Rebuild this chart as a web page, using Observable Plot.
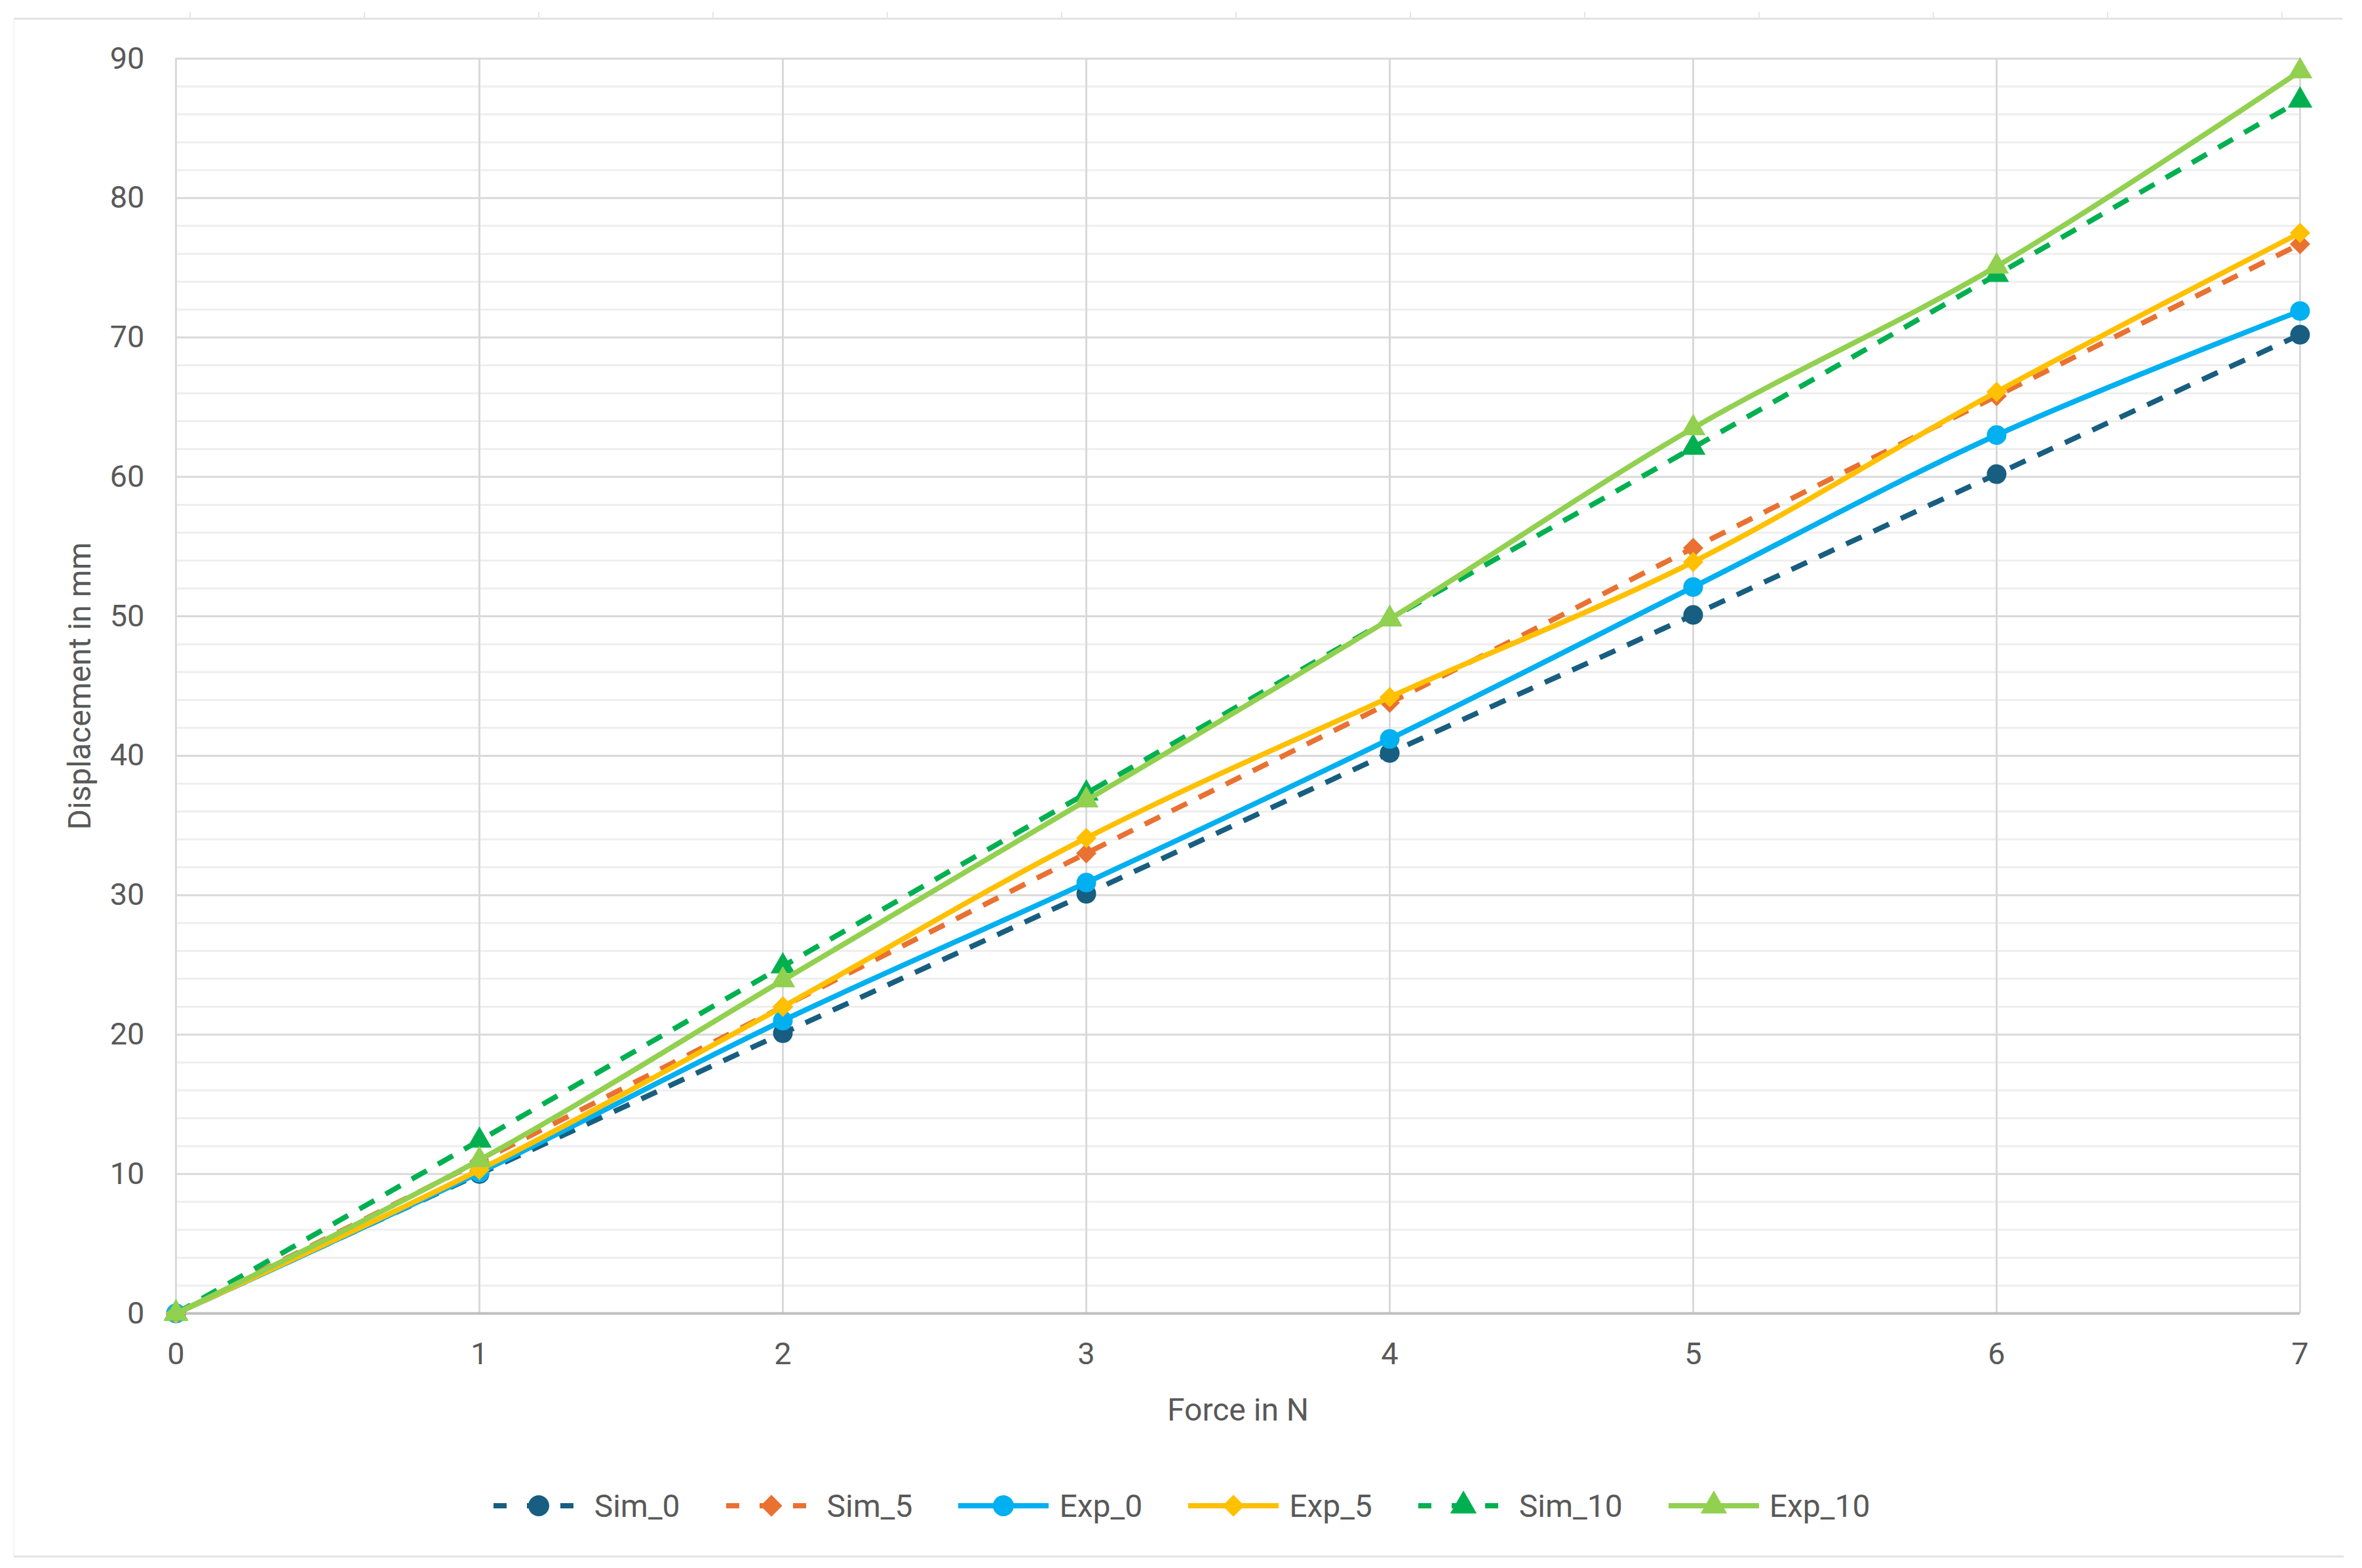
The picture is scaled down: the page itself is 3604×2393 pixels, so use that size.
<!DOCTYPE html>
<html>
<head>
<meta charset="utf-8">
<script src="https://cdn.jsdelivr.net/npm/d3@7"></script>
<script src="https://cdn.jsdelivr.net/npm/@observablehq/plot@0.6"></script>
<style>
  html, body { margin: 0; padding: 0; background: #fff; }
  body { width: 3604px; height: 2393px; position: relative; overflow: hidden; font-family: Roboto, "Noto Sans", sans-serif; }
  #chart { position: absolute; left: 0; top: 0; }
  #legend { position: absolute; left: 0; top: 2258px; width: 3604px; height: 80px; display: flex; justify-content: center; align-items: center; gap: 68px; }
  .item { display: flex; align-items: center; gap: 14px; font-size: 48px; color: #595959; }
  .frameTop { position: absolute; left: 21px; top: 27px; width: 3553px; border-top: 3px solid #e3e3e3; }
  .frameBottom { position: absolute; left: 21px; top: 2374px; width: 3555px; border-top: 3px solid #e3e3e3; }
  .frameLeft { position: absolute; left: 20px; top: 30px; height: 2344px; border-left: 2px solid #f4f4f4; }
  .colTick { position: absolute; top: 18px; height: 10px; border-left: 2px solid #e6e6e6; }
</style>
</head>
<body>
<div class="frameTop"></div>
<div class="frameLeft"></div>
<div id="chart"></div>
<div id="legend"></div>
<div class="frameBottom"></div>
<script>
// ---- data ----
const force = [0, 1, 2, 3, 4, 5, 6, 7];
const sim0  = [0, 10.0, 20.1, 30.1, 40.2, 50.1, 60.2, 70.2];
const sim5  = [0, 10.9, 22.0, 33.0, 43.8, 54.9, 65.8, 76.7];
const exp0  = [0, 10.1, 21.0, 30.9, 41.2, 52.1, 63.0, 71.9];
const exp5  = [0, 10.3, 22.0, 34.1, 44.2, 53.9, 66.1, 77.5];
const sim10 = [0, 12.4, 24.9, 37.3, 49.8, 62.1, 74.5, 87.0];
const exp10 = [0, 11.0, 23.9, 36.8, 49.8, 63.5, 75.1, 89.1];
const seriesNames = ["Sim_0", "Sim_5", "Exp_0", "Exp_5", "Sim_10", "Exp_10"];
const yTicks = [0, 10, 20, 30, 40, 50, 60, 70, 80, 90];
const yMinor = d3.range(0, 91, 2).filter(v => v % 10 !== 0);

// decorative spreadsheet column ticks on the top frame line
for (let k = 0; k < 14; k++) {
  const t = document.createElement("div");
  t.className = "colTick";
  t.style.left = (289 + k * 266) + "px";
  document.body.appendChild(t);
}

// ---- styles ----
const styles = {
  "Sim_0":  {color: "#185e80", dash: "26,20", symbol: "circle",   r: 15},
  "Sim_5":  {color: "#e97132", dash: "26,20", symbol: "diamond2", r: 14},
  "Exp_0":  {color: "#00b0f0", dash: null,    symbol: "circle",   r: 15},
  "Exp_5":  {color: "#ffc000", dash: null,    symbol: "diamond2", r: 14},
  "Sim_10": {color: "#00b050", dash: "26,20", symbol: "triangle", r: 14},
  "Exp_10": {color: "#92d050", dash: null,    symbol: "triangle", r: 14}
};
const values = {"Sim_0": sim0, "Sim_5": sim5, "Exp_0": exp0, "Exp_5": exp5, "Sim_10": sim10, "Exp_10": exp10};

const rows = seriesNames.map(name => force.map((f, i) => ({series: name, force: f, disp: values[name][i]})));

const textColor = "#595959";
const marks = [
  Plot.ruleY(yMinor, {stroke: "#eeeeee", strokeWidth: 3}),
  Plot.ruleY(yTicks.filter(v => v > 0), {stroke: "#d9d9d9", strokeWidth: 3}),
  Plot.ruleX(force, {stroke: "#d9d9d9", strokeWidth: 3}),
  Plot.ruleY([0], {stroke: "#bfbfbf", strokeWidth: 4}),
  Plot.axisY(yTicks, {tickSize: 0, tickPadding: 48, fontSize: 47, fill: textColor, label: null, tickFormat: d3.format("d")}),
  Plot.axisX(force, {tickSize: 0, tickPadding: 44, fontSize: 47, fill: textColor, label: null, tickFormat: d3.format("d")}),
  Plot.text(["Force in N"], {frameAnchor: "bottom", dy: 148, fontSize: 48, fill: textColor, lineAnchor: "middle", textAnchor: "middle"}),
  Plot.text(["Displacement in mm"], {frameAnchor: "left", dx: -146, rotate: -90, fontSize: 48, fill: textColor, lineAnchor: "middle", textAnchor: "middle"})
];
rows.forEach((data, k) => {
  const s = styles[seriesNames[k]];
  marks.push(Plot.line(data, {x: "force", y: "disp", stroke: s.color, strokeWidth: 8, curve: "catmull-rom",
    strokeDasharray: s.dash || undefined, strokeLinecap: s.dash ? "butt" : "round"}));
  marks.push(Plot.dot(data, {x: "force", y: "disp", fill: s.color, stroke: "none", symbol: s.symbol, r: s.r}));
});

const chart = Plot.plot({
  width: 3604,
  height: 2225,
  marginLeft: 268,
  marginRight: 95,
  marginTop: 89,
  marginBottom: 221,
  style: {fontFamily: "Roboto, 'Noto Sans', sans-serif", background: "transparent", overflow: "visible"},
  x: {domain: [0, 7]},
  y: {domain: [0, 90]},
  marks
});
document.getElementById("chart").appendChild(chart);

// ---- legend ----
const legend = document.getElementById("legend");
seriesNames.forEach(name => {
  const s = styles[name];
  const item = document.createElement("div");
  item.className = "item";
  const sw = d3.create("svg").attr("width", 142).attr("height", 50);
  sw.append("line").attr("x1", 2).attr("x2", 140).attr("y1", 25).attr("y2", 25)
    .attr("stroke", s.color).attr("stroke-width", 8)
    .attr("stroke-dasharray", s.dash ? "20,31" : null);
  const symMap = {circle: d3.symbolCircle, diamond2: d3.symbolDiamond2, triangle: d3.symbolTriangle};
  const size = Math.PI * (s.r + 1) * (s.r + 1);
  sw.append("path").attr("transform", "translate(71,25)")
    .attr("d", d3.symbol(symMap[s.symbol], size)()).attr("fill", s.color);
  item.appendChild(sw.node());
  const label = document.createElement("span");
  label.textContent = name;
  item.appendChild(label);
  legend.appendChild(item);
});
</script>
</body>
</html>
